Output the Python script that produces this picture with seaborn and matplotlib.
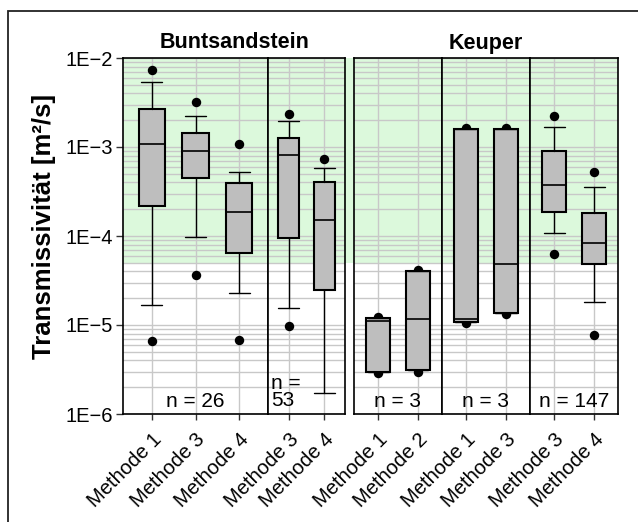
import numpy as np
import pandas as pd
import matplotlib
matplotlib.use("Agg")
import matplotlib.pyplot as plt
import seaborn as sns
from matplotlib.ticker import LogLocator, FixedLocator, FixedFormatter, NullFormatter
from matplotlib.patches import Rectangle

# ---------------- data ----------------
formation = ["Buntsandstein"] * 5 + ["Keuper"] * 6
subgroup = [0, 0, 0, 1, 1, 2, 2, 3, 3, 4, 4]
methode = ["Methode 1", "Methode 3", "Methode 4", "Methode 3", "Methode 4",
           "Methode 1", "Methode 2", "Methode 1", "Methode 3", "Methode 3", "Methode 4"]
whisker_low = [1.68e-5, 9.8e-5, 2.27e-5, 1.57e-5, 1.7e-6,
               2.99e-6, 3.12e-6, 1.09e-5, 1.38e-5, 1.08e-4, 1.81e-5]
q1 = [2.19e-4, 4.52e-4, 6.4e-5, 9.4e-5, 2.5e-5,
      2.99e-6, 3.12e-6, 1.09e-5, 1.38e-5, 1.85e-4, 4.84e-5]
median = [1.09e-3, 9.1e-4, 1.88e-4, 8.05e-4, 1.53e-4,
          1.1e-5, 1.17e-5, 1.18e-5, 4.9e-5, 3.74e-4, 8.4e-5]
q3 = [2.67e-3, 1.44e-3, 3.97e-4, 1.26e-3, 4.08e-4,
      1.2e-5, 4.07e-5, 1.59e-3, 1.58e-3, 9.0e-4, 1.81e-4]
whisker_high = [5.4e-3, 2.23e-3, 5.3e-4, 1.94e-3, 5.86e-4,
                1.2e-5, 4.07e-5, 1.59e-3, 1.58e-3, 1.66e-3, 3.52e-4]
point_low = [6.6e-6, 3.6e-5, 6.8e-6, 9.7e-6, np.nan,
             2.9e-6, 3.0e-6, 1.04e-5, 1.32e-5, 6.3e-5, 7.65e-6]
point_high = [7.3e-3, 3.2e-3, 1.07e-3, 2.35e-3, 7.4e-4,
              1.24e-5, 4.2e-5, 1.65e-3, 1.65e-3, 2.23e-3, 5.2e-4]
n_labels = ["n = 26", "n =\n53", "n = 3", "n = 3", "n = 147"]
panel_titles = ["Buntsandstein", "Keuper"]
ytick_values = [1e-6, 1e-5, 1e-4, 1e-3, 1e-2]
ytick_labels = ["1E\u22126", "1E\u22125", "1E\u22124", "1E\u22123", "1E\u22122"]
green_low, green_high = 5e-5, 1e-2
y_label = "Transmissivität [m²/s]"

# ---------------- style ----------------
sns.set_style("white")
plt.rcParams["font.family"] = ["Liberation Sans", "DejaVu Sans"]
plt.rcParams["text.color"] = "black"
plt.rcParams["axes.labelcolor"] = "black"
plt.rcParams["xtick.color"] = "black"
plt.rcParams["ytick.color"] = "black"

W, H = 638, 522
fig = plt.figure(figsize=(W / 100, H / 100), dpi=100)

def fx(px):
    return px / W

def fy(py):
    return 1 - py / H

top_px, bot_px = 58, 414
sub_px = [(123, 268), (268, 345), (354, 442), (442, 530), (530, 618)]
margins = [0.66, 0.58, 0.6, 0.6, 0.6]

green = "#dcf9dc"
gridc = "#c8c8c8"

df = pd.DataFrame(dict(formation=formation, sub=subgroup, methode=methode,
                       wlo=whisker_low, q1=q1, med=median, q3=q3, whi=whisker_high,
                       plo=point_low, phi=point_high))

axes = []
for i, (x0, x1) in enumerate(sub_px):
    ax = fig.add_axes([fx(x0), fy(bot_px), fx(x1 - x0), (bot_px - top_px) / H])
    axes.append(ax)
    sub = df[df["sub"] == i].reset_index(drop=True)
    order = list(sub["methode"])
    k = len(order)
    m = margins[i]
    spacing = (x1 - x0) / (k - 1 + 2 * m)

    ax.set_yscale("log")
    ax.set_ylim(1e-6, 1e-2)
    ax.axhspan(green_low, green_high, color=green, zorder=0, lw=0)

    pts = pd.concat([
        pd.DataFrame(dict(methode=sub["methode"], value=sub["plo"])),
        pd.DataFrame(dict(methode=sub["methode"], value=sub["phi"])),
    ]).dropna()
    sns.stripplot(data=pts, x="methode", y="value", order=order, jitter=False,
                  color="black", size=6.8, linewidth=0, ax=ax, zorder=2)

    stats = []
    for _, r in sub.iterrows():
        stats.append(dict(whislo=r["wlo"], q1=r["q1"], med=r["med"], q3=r["q3"],
                          whishi=r["whi"], fliers=[]))
    ax.bxp(stats, positions=list(range(k)), widths=0.6,
           capwidths=21 / spacing, patch_artist=True, showfliers=False,
           manage_ticks=False,
           boxprops=dict(facecolor="#bebebe", edgecolor="black", linewidth=1.5),
           medianprops=dict(color="black", linewidth=1.2),
           whiskerprops=dict(color="black", linewidth=1.0),
           capprops=dict(color="black", linewidth=1.0), zorder=3)

    ax.set_xlim(-m, k - 1 + m)
    ax.set_ylim(1e-6, 1e-2)
    ax.set_xlabel("")
    ax.set_ylabel("")
    ax.set_axisbelow(True)
    ax.yaxis.set_major_locator(FixedLocator(ytick_values))
    ax.yaxis.set_major_formatter(FixedFormatter(ytick_labels))
    ax.yaxis.set_minor_locator(LogLocator(base=10, subs=np.arange(2, 10), numticks=20))
    ax.yaxis.set_minor_formatter(NullFormatter())
    ax.grid(True, which="both", axis="y", color=gridc, lw=1.0, zorder=1)
    ax.set_xticks(range(k))
    ax.set_xticklabels(order, rotation=45, ha="right", va="top",
                       rotation_mode="anchor", fontsize=14.6, color="black")
    ax.grid(True, which="major", axis="x", color=gridc, lw=1.0)
    ax.tick_params(axis="x", which="major", length=4, width=1, color="#333333",
                   pad=7, bottom=True)
    ax.tick_params(axis="y", which="minor", length=0)
    if i == 0:
        ax.tick_params(axis="y", which="major", length=5, width=1, color="#333333",
                       labelsize=14.5, labelcolor="black", pad=2, left=True)
    else:
        ax.tick_params(axis="y", which="both", left=False, labelleft=False)
    for s in ax.spines.values():
        s.set_color("black")
        s.set_linewidth(1.2)
        s.set_visible(True)

    if "\n" in n_labels[i]:
        ax.text(3 / (x1 - x0), 0.01, n_labels[i], transform=ax.transAxes,
                ha="left", va="bottom", fontsize=15, linespacing=0.9, zorder=5,
                color="black")
    else:
        ax.text(0.5, 0.02, n_labels[i], transform=ax.transAxes,
                ha="center", va="baseline", fontsize=15, zorder=5, color="black")

# green band in the gap between the two panels
gap = fig.add_axes([fx(345), fy(bot_px), fx(354 - 345), (bot_px - top_px) / H],
                   zorder=-1)
gap.set_yscale("log")
gap.set_ylim(1e-6, 1e-2)
gap.axhspan(green_low, green_high, color=green, lw=0)
gap.set_axis_off()

fig.text(fx(235), fy(43), panel_titles[0], ha="center", va="center",
         fontsize=15.5, fontweight="bold", color="black")
fig.text(fx(486), fy(43), panel_titles[1], ha="center", va="center",
         fontsize=15.5, fontweight="bold", color="black")
fig.text(fx(44), fy(226), y_label, rotation=90, ha="center", va="center",
         fontsize=18.5, fontweight="bold", color="black")

fig.patches.append(Rectangle((fx(8), -0.1), 1.0, fy(11) + 0.1, transform=fig.transFigure,
                             fill=False, edgecolor="#222222", lw=1.3))

fig.savefig("out.png", dpi=100)
